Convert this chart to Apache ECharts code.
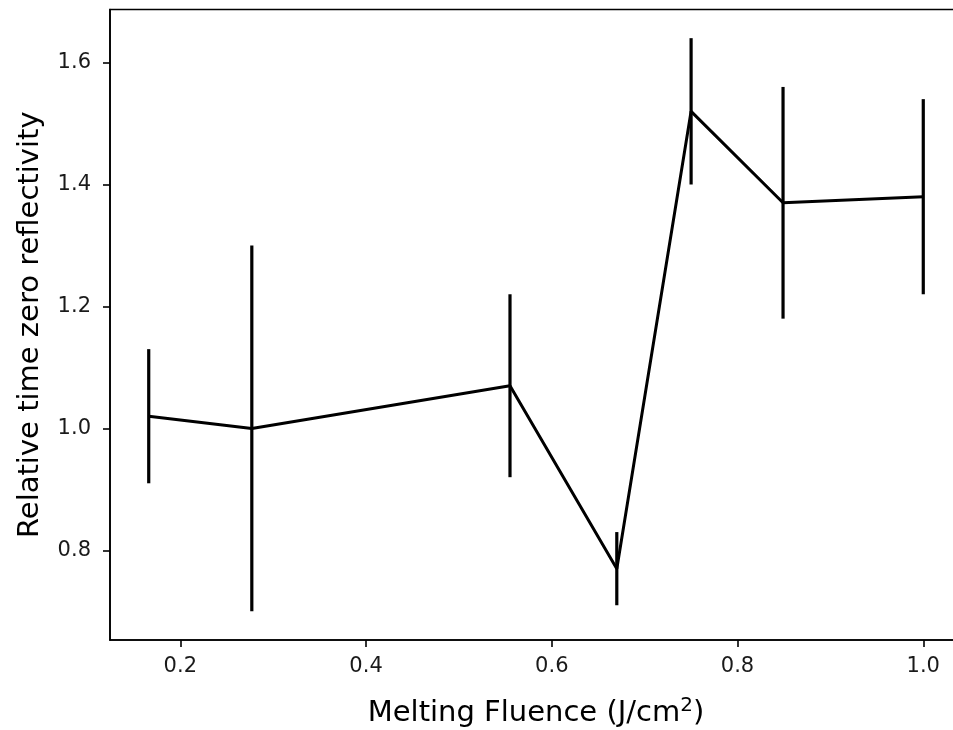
<!DOCTYPE html>
<html>
<head>
<meta charset="utf-8">
<script src="https://cdn.jsdelivr.net/npm/echarts@6/dist/echarts.min.js"></script>
<style>
  html, body { margin: 0; padding: 0; background: #ffffff; }
  #chart { width: 953px; height: 730px; }
</style>
</head>
<body>
<div id="chart"></div>
<script>
// Measurements: melting fluence vs. relative time-zero reflectivity, with symmetric errors
const fluence = [0.166, 0.277, 0.555, 0.670, 0.750, 0.849, 1.000];
const reflectivity = [1.02, 1.00, 1.07, 0.77, 1.52, 1.37, 1.38];
const errors = [0.11, 0.30, 0.15, 0.06, 0.12, 0.19, 0.16];

const xTicks = [0.2, 0.4, 0.6, 0.8, 1.0];
const yTicks = [0.8, 1.0, 1.2, 1.4, 1.6];

// Axis limits padded by 5% of the data span on each side
const lows = reflectivity.map((v, i) => v - errors[i]);
const highs = reflectivity.map((v, i) => v + errors[i]);
const xLo = Math.min(...fluence), xHi = Math.max(...fluence);
const yLo = Math.min(...lows), yHi = Math.max(...highs);
const xPad = 0.05 * (xHi - xLo), yPad = 0.05 * (yHi - yLo);

const FONT = 'DejaVu Sans';
const INK = '#000000';

const linePoints = fluence.map((x, i) => [x, reflectivity[i]]);
const barPoints = fluence.map((x, i) => [x, lows[i], highs[i]]);

const chart = echarts.init(document.getElementById('chart'), null, { renderer: 'canvas' });

chart.setOption({
  animation: false,
  backgroundColor: '#ffffff',
  grid: {
    left: 110, right: -9, top: 9.5, bottom: 90,
    containLabel: false,
    outerBoundsMode: 'none',
    show: true, borderColor: INK, borderWidth: 1.6, backgroundColor: 'transparent'
  },
  xAxis: {
    type: 'value',
    min: xLo - xPad,
    max: xHi + xPad,
    name: '{t|Melting Fluence (J/cm}{s|2}{t|)}',
    nameLocation: 'middle',
    nameGap: 56,
    nameTextStyle: {
      rich: {
        t: { fontFamily: FONT, fontSize: 29, color: INK },
        s: { fontFamily: FONT, fontSize: 20, color: INK, padding: [0, 0, 14, 0] }
      }
    },
    splitLine: { show: false },
    axisLine: { show: true, lineStyle: { color: INK, width: 1.6 } },
    axisTick: { show: true, length: 7, lineStyle: { color: INK, width: 1.6 }, customValues: xTicks },
    axisLabel: {
      customValues: xTicks,
      formatter: v => v.toFixed(1),
      fontFamily: FONT, fontSize: 21, color: '#1a1a1a', margin: 16
    }
  },
  yAxis: {
    type: 'value',
    min: yLo - yPad,
    max: yHi + yPad,
    name: 'Relative time zero reflectivity',
    nameLocation: 'middle',
    nameRotate: 90,
    nameGap: 65,
    nameTextStyle: { fontFamily: FONT, fontSize: 29, color: INK },
    splitLine: { show: false },
    axisLine: { show: true, lineStyle: { color: INK, width: 1.6 } },
    axisTick: { show: true, length: 7, lineStyle: { color: INK, width: 1.6 }, customValues: yTicks },
    axisLabel: {
      customValues: yTicks,
      formatter: v => v.toFixed(1),
      fontFamily: FONT, fontSize: 21, color: '#1a1a1a', margin: 19
    }
  },
  series: [
    {
      type: 'custom',
      name: 'error',
      data: barPoints,
      encode: { x: 0, y: [1, 2] },
      renderItem: function (params, api) {
        const x = api.value(0);
        const p0 = api.coord([x, api.value(1)]);
        const p1 = api.coord([x, api.value(2)]);
        return {
          type: 'line',
          shape: { x1: p0[0], y1: p0[1], x2: p1[0], y2: p1[1] },
          style: { stroke: INK, lineWidth: 3.2 }
        };
      },
      z: 2
    },
    {
      type: 'line',
      name: 'reflectivity',
      data: linePoints,
      showSymbol: false,
      symbol: 'none',
      lineStyle: { color: INK, width: 3 },
      z: 3
    }
  ]
});
</script>
</body>
</html>
